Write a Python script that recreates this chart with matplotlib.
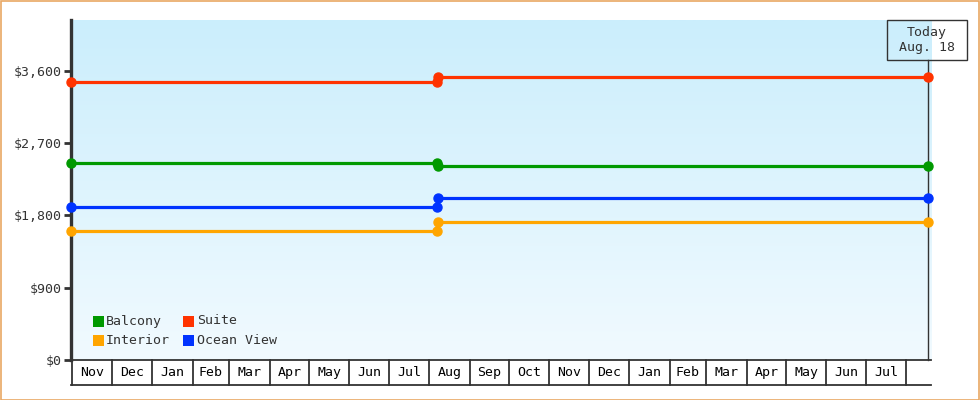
import matplotlib
matplotlib.use("Agg")
import matplotlib.pyplot as plt
import matplotlib.dates as mdates
from matplotlib.patches import Rectangle
import numpy as np
import datetime as dt

# ---- data ----
series_names = ["Balcony", "Suite", "Interior", "Ocean View"]
series_colors = ["#009900", "#FF3300", "#FFA500", "#0033FF"]
seg1_dates = ["2016-10-31", "2017-08-07"]
seg2_dates = ["2017-08-08", "2018-08-18"]
balcony = [2450, 2417]
suite = [3456, 3518]
interior = [1610, 1722]
ocean_view = [1904, 2016]
series_values = [balcony, suite, interior, ocean_view]
y_ticks = [0, 900, 1800, 2700, 3600]
y_tick_labels = ["$0", "$900", "$1,800", "$2,700", "$3,600"]
month_labels = ["Nov", "Dec", "Jan", "Feb", "Mar", "Apr", "May", "Jun", "Jul",
                "Aug", "Sep", "Oct", "Nov", "Dec", "Jan", "Feb", "Mar", "Apr",
                "May", "Jun", "Jul"]
today_label = "Today\nAug. 18"
today_date = "2018-08-18"

W, H = 980, 400
FONT = "DejaVu Sans Mono"
DARK = "#333333"

def d(s):
    return mdates.date2num(dt.datetime.strptime(s, "%Y-%m-%d"))

fig = plt.figure(figsize=(W / 100, H / 100), dpi=100)
fig.patch.set_facecolor("white")

def fx(x):
    return x / W

def fy(y):
    return 1 - y / H

ax_l, ax_r, ax_t, ax_b = 71, 931, 20, 360
ax = fig.add_axes([fx(ax_l), fy(ax_b), (ax_r - ax_l) / W, (ax_b - ax_t) / H])
ax.set_xlim(d("2016-10-31"), d("2018-08-20"))
ax.set_ylim(0, 4230)

# gradient background
grad = np.linspace(0, 1, 256).reshape(-1, 1)
top = np.array([203, 238, 252]) / 255
bot = np.array([241, 250, 255]) / 255
img = top[None, None, :] * (1 - grad[:, :, None]) + bot[None, None, :] * grad[:, :, None]
ax.imshow(img, extent=[0, 1, 0, 1], transform=ax.transAxes, aspect="auto", zorder=0)

# series
for name, col, vals in zip(series_names, series_colors, series_values):
    ax.plot([d(s) for s in seg1_dates], [vals[0], vals[0]], color=col, lw=2.3,
            marker="o", ms=6.5, mec=col, zorder=3, clip_on=False, solid_capstyle="butt")
    ax.plot([d(s) for s in seg2_dates], [vals[1], vals[1]], color=col, lw=2.3,
            marker="o", ms=6.5, mec=col, zorder=3, clip_on=False, solid_capstyle="butt")

# axes styling
for sp in ["top", "right", "bottom"]:
    ax.spines[sp].set_visible(False)
ax.spines["left"].set_color(DARK)
ax.spines["left"].set_linewidth(2.4)
ax.spines["left"].set_zorder(2)
ax.set_yticks(y_ticks)
ax.set_yticklabels(y_tick_labels, fontfamily=FONT, fontsize=9.5, color=DARK)
ax.tick_params(axis="y", length=5, width=2, color=DARK, pad=2)
ax.set_xticks([])

# month cells below axis
cell_h = 25 / (ax_b - ax_t)
trans = ax.get_xaxis_transform()
ax.plot([0, 1], [0, 0], transform=ax.transAxes, color=DARK, lw=1.3, clip_on=False, zorder=4)
ax.plot([0, 1], [-cell_h, -cell_h], transform=ax.transAxes, color=DARK, lw=1.3, clip_on=False, zorder=4)
starts = []
yy, mm = 2016, 11
for i in range(len(month_labels) + 1):
    starts.append(mdates.date2num(dt.datetime(yy, mm, 1)))
    mm += 1
    if mm > 12:
        mm = 1
        yy += 1
for s in starts:
    ax.plot([s, s], [0, -cell_h], transform=trans, color=DARK, lw=1.3, clip_on=False, zorder=4)
for i, lab in enumerate(month_labels):
    cx = (starts[i] + starts[i + 1]) / 2
    ax.text(cx, -cell_h / 2, lab, transform=trans, ha="center", va="center",
            fontfamily=FONT, fontsize=9.5, color="black", clip_on=False)

# today line and box
td = d(today_date)
ax.plot([td, td], [0, 1 - 40 / (ax_b - ax_t)], transform=trans, color=DARK, lw=1, zorder=2, clip_on=False)
fig.patches.append(Rectangle((fx(887), fy(60)), 80 / W, 40 / H, transform=fig.transFigure,
                             facecolor="none", edgecolor=DARK, lw=1, zorder=5))
fig.text(fx(927), fy(40), today_label, ha="center", va="center", fontfamily=FONT,
         fontsize=9.5, color=DARK, linespacing=1.2, zorder=6)

# legend (manual)
leg_pos = [(93, 315.5), (183, 315.5), (93, 335), (183, 335)]
leg_text_x = [106, 197, 106, 197]
for (lx, ly), tx, name, col in zip(leg_pos, leg_text_x, series_names, series_colors):
    fig.patches.append(Rectangle((fx(lx), fy(ly + 11)), 11 / W, 11 / H, transform=fig.transFigure,
                                 facecolor=col, edgecolor="none", zorder=5))
    fig.text(fx(tx), fy(ly + 5.5), name, ha="left", va="center", fontfamily=FONT,
             fontsize=9.5, color=DARK, zorder=6)

# outer orange border
fig.patches.append(Rectangle((0.5 / W, 0.5 / H), 1 - 1.5 / W, 1 - 1.5 / H, transform=fig.transFigure,
                             facecolor="none", edgecolor="#E9A863", lw=1.2, zorder=10))

fig.savefig("out.png", dpi=100)
